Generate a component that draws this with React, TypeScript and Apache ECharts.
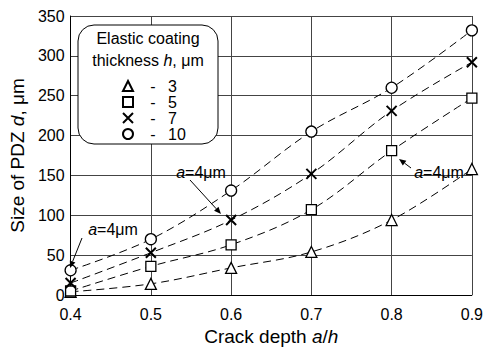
import React, { useEffect, useRef } from "react";
import * as echarts from "echarts";

const xValues = [0.4, 0.5, 0.6, 0.7, 0.8, 0.9];
const h3 = [4, 14, 34, 54, 94, 158];
const h5 = [5, 36, 63, 107, 181, 247];
const h7 = [15, 53, 94, 152, 231, 292];
const h10 = [31, 70, 131, 205, 260, 332];
const seriesNames = ["3", "5", "7", "10"];
const yTicks = { min: 0, max: 350, interval: 50 };
const xTicks = { min: 0.4, max: 0.9, interval: 0.1 };

const FONT = "Liberation Sans, Arial, sans-serif";
const X_PATH = "path://M0,0L10,10M10,0L0,10";

function arrow(x1: number, y1: number, x2: number, y2: number) {
  const dx = x2 - x1;
  const dy = y2 - y1;
  const len = Math.sqrt(dx * dx + dy * dy);
  const ux = dx / len;
  const uy = dy / len;
  const hl = 7;
  const hw = 3;
  const bx = x2 - ux * hl;
  const by = y2 - uy * hl;
  return [
    {
      type: "line",
      z: 30,
      shape: { x1, y1, x2: bx, y2: by },
      style: { stroke: "#000", lineWidth: 1 },
    },
    {
      type: "polygon",
      z: 30,
      shape: {
        points: [
          [x2, y2],
          [bx - uy * hw, by + ux * hw],
          [bx + uy * hw, by - ux * hw],
        ],
      },
      style: { fill: "#000" },
    },
  ];
}

function annotText(cx: number, cy: number) {
  return {
    type: "text",
    z: 30,
    x: cx,
    y: cy,
    style: {
      text: "{i|a}{n|=4μm}",
      align: "center",
      verticalAlign: "middle",
      rich: {
        i: { fontStyle: "italic", fontSize: 16, fontFamily: FONT, fill: "#000" },
        n: { fontSize: 16, fontFamily: FONT, fill: "#000" },
      },
    },
  };
}

export default function App() {
  const ref = useRef<HTMLDivElement>(null);
  useEffect(() => {
    document.body.style.margin = "0";
    if (!ref.current) return;
    const chart = echarts.init(ref.current, undefined, { renderer: "svg" });
    const sets = [h3, h5, h7, h10];
    const symbols = ["triangle", "rect", X_PATH, "circle"];
    const sizes = [11, 10, 10, 11];
    const series = sets.map((vals, i) => ({
      name: seriesNames[i],
      type: "line",
      smooth: 0.35,
      data: xValues.map((x, j) => [x, vals[j]]),
      symbol: symbols[i],
      symbolSize: sizes[i],
      showAllSymbol: true,
      z: 5,
      lineStyle: { color: "#000", width: 1, type: [8, 5] },
      itemStyle: {
        color: "#fff",
        borderColor: "#000",
        borderWidth: i === 2 ? 2 : 1.3,
      },
    }));
    chart.setOption({
      animation: false,
      backgroundColor: "#fff",
      grid: { left: 66, right: 14, top: 16, bottom: 51 },
      xAxis: {
        type: "value",
        min: xTicks.min,
        max: xTicks.max,
        interval: xTicks.interval,
        name: "{n|Crack depth }{i|a}{n|/}{i|h}",
        nameLocation: "middle",
        nameGap: 32,
        nameTextStyle: {
          rich: {
            n: { fontSize: 19, fontFamily: FONT, color: "#000" },
            i: { fontSize: 19, fontFamily: FONT, color: "#000", fontStyle: "italic" },
          },
        },
        axisLine: { lineStyle: { color: "#000", width: 1 } },
        axisTick: { show: false },
        axisLabel: {
          color: "#000",
          fontSize: 16,
          fontFamily: FONT,
          margin: 11,
          formatter: (v: number) => v.toFixed(1),
        },
        splitLine: { show: true, lineStyle: { color: "#444", width: 1 } },
      },
      yAxis: {
        type: "value",
        min: yTicks.min,
        max: yTicks.max,
        interval: yTicks.interval,
        name: "{n|Size of PDZ }{i|d}{n|, μm}",
        nameLocation: "middle",
        nameGap: 40,
        nameTextStyle: {
          rich: {
            n: { fontSize: 19, fontFamily: FONT, color: "#000" },
            i: { fontSize: 19, fontFamily: FONT, color: "#000", fontStyle: "italic" },
          },
        },
        axisLine: { show: true, lineStyle: { color: "#000", width: 1 } },
        axisTick: { show: false },
        axisLabel: { color: "#000", fontSize: 16, fontFamily: FONT, margin: 6 },
        splitLine: { show: true, lineStyle: { color: "#444", width: 1 } },
      },
      legend: {
        orient: "vertical",
        left: 117,
        top: 73,
        z: 40,
        itemWidth: 10,
        itemHeight: 10,
        itemGap: 0,
        selectedMode: false,
        data: seriesNames.map((n, i) => ({ name: n, icon: symbols[i] })),
        formatter: (name: string) => "{d|-}{n|" + name + "}",
        textStyle: {
          rich: {
            d: { width: 30, align: "center", fontSize: 16, fontFamily: FONT, color: "#000", lineHeight: 16 },
            n: { fontSize: 16, fontFamily: FONT, color: "#000", lineHeight: 16 },
          },
        },
      },
      graphic: [
        {
          type: "rect",
          z: 35,
          shape: { x: 78, y: 25, width: 140, height: 119, r: 16 },
          style: { fill: "#fff", stroke: "#000", lineWidth: 1 },
        },
        {
          type: "text",
          z: 36,
          x: 148,
          y: 38,
          style: {
            text: "Elastic coating",
            align: "center",
            verticalAlign: "middle",
            fontSize: 16,
            fontFamily: FONT,
            fill: "#000",
          },
        },
        {
          type: "text",
          z: 36,
          x: 148,
          y: 60,
          style: {
            text: "{n|thickness }{i|h}{n|, μm}",
            align: "center",
            verticalAlign: "middle",
            rich: {
              n: { fontSize: 16, fontFamily: FONT, fill: "#000" },
              i: { fontSize: 16, fontFamily: FONT, fill: "#000", fontStyle: "italic" },
            },
          },
        },
        annotText(113, 229),
        ...arrow(82, 238, 70, 268),
        annotText(201, 172),
        ...arrow(190, 180, 221, 214),
        annotText(439, 172),
        ...arrow(411, 168, 399, 159),
      ],
      series,
    });
    return () => chart.dispose();
  }, []);
  return <div ref={ref} style={{ width: 486, height: 351 }} />;
}
